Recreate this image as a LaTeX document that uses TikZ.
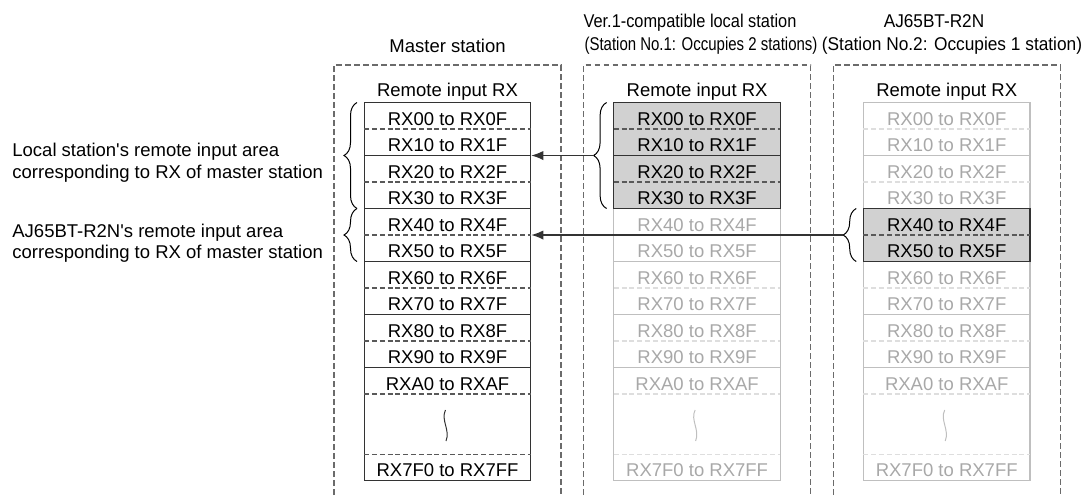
\documentclass[tikz,border=0pt]{standalone}
\usepackage{fontspec}
\setmainfont{Liberation Sans}
\usepackage{graphicx}
\usepackage{tikz}
\usetikzlibrary{decorations.pathreplacing, arrows.meta}
\definecolor{ink}{gray}{0.2}
\definecolor{shade}{gray}{0.82}
\definecolor{faintline}{gray}{0.75}
\definecolor{faintdash}{gray}{0.87}
\definecolor{fainttext}{gray}{0.66}
\definecolor{framegray}{gray}{0.42}
\tikzset{
  lbl/.style={font=\fontsize{9.25}{10.85}\selectfont, inner sep=0pt, text height=6.62pt, text depth=0pt},
  cell/.style={lbl, minimum width=83.35pt},
  note/.style={font=\fontsize{9.25}{10.85}\selectfont, inner sep=0pt, align=left, anchor=north west},
  frame/.style={framegray, line width=0.55pt, dash pattern=on 2.8pt off 1.7pt},
  sep/.style={line width=0.6pt},
  dsep/.style={line width=0.55pt, dash pattern=on 2.5pt off 1.4pt},
  brc/.style={decorate, decoration={brace, amplitude=6.5pt}, line width=0.5pt},
  link/.style={-{Latex[length=6pt, width=4.6pt]}, line width=0.65pt, ink},
}
% grid of one column: #1 solid colour, #2 dashed colour
\newcommand{\rxgrid}[2]{
  \draw[frame] (-113.5,495) -- (-113.5,65) -- (113.5,65) -- (113.5,495);
  \draw[sep, #1] (-83.35,102.5) rectangle (83.35,480.5);
  \foreach \j in {2,4,...,10} \draw[sep, #1] (-83.35,{102.5+26.5*\j}) -- (83.35,{102.5+26.5*\j});
  \foreach \j in {1,3,...,11} \draw[dsep, #2] (-83.35,{102.5+26.5*\j}) -- (83.35,{102.5+26.5*\j});
  \draw[dsep, #2] (-83.35,454.5) -- (83.35,454.5);
  \draw[#1, line width=0.5pt] (-2,410) .. controls (-7,420) and (3,430) .. (-1.5,441);
}
% cell texts: #1 name prefix, rows #2 to #3 dark, #4 colour of last row
\newcommand{\rxtext}[4]{
  \node[lbl] (#1title) at (0,89.7) {Remote input RX};
  \foreach \i/\hx in {0/0,1/1,2/2,3/3,4/4,5/5,6/6,7/7,8/8,9/9,10/A} {
    \pgfmathtruncatemacro{\isdark}{and(\i>=#2, \i<=#3)}
    \ifnum\isdark=1 \def\tcol{black}\else\def\tcol{fainttext}\fi
    \node[cell, text=\tcol] (#1\i) at (0,{118.4+26.5*\i}) {RX\hx0 to RX\hx F};
  }
  \node[cell, text=#4] (#1last) at (0,469.9) {RX7F0 to RX7FF};
}

\begin{document}
\begin{tikzpicture}[x=0.5pt, y=-0.5pt]
\useasboundingbox (0,0) rectangle (1087,495);
% headers
\node[lbl] (master) at (447.5,46) {Master station};
\node[lbl] (localname) at (690,21) {\scalebox{0.885}[1]{Ver.1-compatible local station}};
\node[lbl] (localno) at (701,44) {\scalebox{0.81}[1]{(Station No.1: Occupies 2 stations)}};
\node[lbl] (r2nname) at (934,21) {\scalebox{0.93}[1]{AJ65BT-R2N}};
\node[lbl] (r2nno) at (952,44) {\scalebox{0.935}[1]{(Station No.2: Occupies 1 station)}};
% notes
\node[note] (localnote) at (12,142.6) {Local station\textquotesingle s remote input area\\corresponding to RX of master station};
\node[note] (r2nnote) at (12,223.2) {AJ65BT-R2N\textquotesingle s remote input area\\corresponding to RX of master station};
% master station
\begin{scope}[shift={(447.5,0)}]
\rxgrid{ink}{black!65}
\draw[brc] (-90.5,208.5) -- (-90.5,102.5);
\draw[brc] (-90.5,261.5) -- (-90.5,208.5);
\rxtext{m}{0}{10}{black}
\end{scope}
% local station
\begin{scope}[shift={(697.1,0)}]
\rxgrid{faintline}{faintdash}
\draw[sep, ink, fill=shade] (-83.35,102.5) rectangle (83.35,208.5);
\draw[sep, ink] (-83.35,155.5) -- (83.35,155.5);
\draw[dsep, black!65] (-83.35,129) -- (83.35,129) (-83.35,182) -- (83.35,182);
\draw[brc] (-90.5,208.5) -- (-90.5,102.5);
\coordinate (ltip) at (-103.5,155.5);
\rxtext{l}{0}{3}{fainttext}
\end{scope}
% AJ65BT-R2N
\begin{scope}[shift={(946.7,0)}]
\rxgrid{faintline}{faintdash}
\draw[sep, ink, fill=shade] (-83.35,208.5) rectangle (83.35,261.5);
\draw[dsep, black!65] (-83.35,235) -- (83.35,235);
\draw[brc] (-90.5,261.5) -- (-90.5,208.5);
\coordinate (rtip) at (-103.5,235);
\rxtext{r}{4}{5}{fainttext}
\end{scope}
% links
\draw[link] (ltip) -- (ltip -| m1.east);
\draw[link] (rtip) -- (rtip -| m4.east);
\end{tikzpicture}
\end{document}
